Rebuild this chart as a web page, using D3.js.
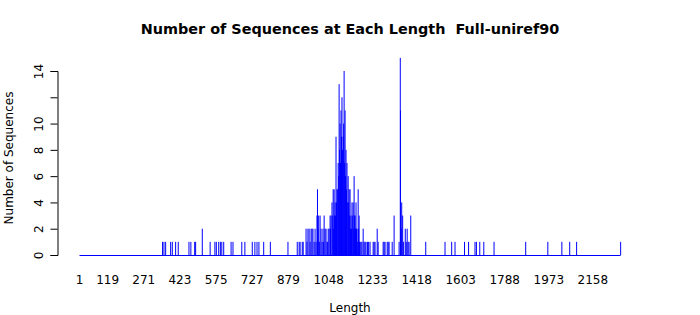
<!DOCTYPE html>
<html>
<head>
<meta charset="utf-8">
<script src="https://cdn.jsdelivr.net/npm/d3@7"></script>
<style>
  body { margin: 0; background: #fff; }
  text { font-family: "DejaVu Sans", sans-serif; fill: #000; }
</style>
</head>
<body>
<div id="chart"></div>
<script>
// sequence lengths that occur, and how many sequences have that length
const lengths = [
  350, 356, 363, 384, 391, 405, 416, 461, 469, 485, 489, 517, 550, 570, 576, 586, 593, 599, 607,
  638, 646, 683, 696, 727, 738, 747, 755, 775, 803, 877,
  916, 924, 928, 937, 941, 953, 957, 961, 966, 970, 974, 978, 982, 987, 991, 995,
  999, 1001, 1003, 1006, 1009, 1012, 1016, 1020, 1024, 1027, 1029, 1033, 1037, 1041, 1044, 1046,
  1050, 1054, 1056, 1058, 1062, 1065, 1067, 1069, 1071, 1073, 1075, 1077, 1079, 1081, 1083, 1086,
  1088, 1090, 1092, 1094, 1096, 1098, 1100, 1102, 1104, 1106, 1109, 1111, 1113, 1115, 1117, 1119,
  1121, 1123, 1125, 1128, 1130, 1132, 1134, 1136, 1138, 1140, 1142, 1144, 1146, 1149, 1151, 1153,
  1155, 1157, 1159, 1161, 1163, 1165, 1167, 1170, 1172, 1174, 1176, 1178, 1180, 1184, 1188, 1193,
  1197, 1201, 1205, 1211, 1216, 1222, 1235, 1239, 1243, 1252, 1256, 1277, 1281, 1285, 1294, 1298, 1302, 1315,
  1323, 1344, 1349, 1350, 1353, 1355, 1359, 1363, 1370, 1374, 1378, 1382, 1386, 1393,
  1456, 1537, 1565, 1579, 1619, 1636, 1663, 1669, 1683, 1700, 1743, 1876, 1969, 2028, 2061, 2090, 2275
];
const counts = [
  1, 1, 1, 1, 1, 1, 1, 1, 1, 1, 1, 2, 1, 1, 1, 1, 1, 1, 1,
  1, 1, 1, 1, 1, 1, 1, 1, 1, 1, 1,
  1, 1, 1, 1, 1, 2, 1, 2, 2, 1, 2, 2, 2, 1, 2, 1,
  3, 5, 2, 3, 1, 3, 2, 1, 2, 1, 3, 2, 2, 1, 1, 2,
  2, 3, 2, 3, 4, 3, 5, 2, 5, 3, 4, 3, 9, 4, 5, 5,
  7, 6, 13, 8, 10, 7, 11, 9, 12, 8, 9, 10, 14, 7, 11, 6,
  8, 5, 7, 4, 6, 4, 5, 3, 5, 2, 3, 2, 4, 3, 4, 2,
  6, 3, 3, 2, 4, 2, 2, 1, 5, 2, 3, 1, 1, 1, 1, 2,
  1, 1, 1, 1, 1, 1, 1, 1, 1, 2, 1, 1, 1, 1, 1, 1, 1, 1,
  3, 1, 15, 11, 2, 4, 3, 1, 2, 1, 2, 1, 1, 3,
  1, 1, 1, 1, 1, 1, 1, 1, 1, 1, 1, 1, 1, 1, 1, 1, 1
];

const xTickValues = [1, 119, 271, 423, 575, 727, 879, 1048, 1233, 1418, 1603, 1788, 1973, 2158];
const yTickValues = [0, 2, 4, 6, 8, 10, 12, 14];
const yTickLabels = ['0', '2', '4', '6', '8', '10', '', '14'];

const chartTitle = 'Number of Sequences at Each Length\u00a0\u00a0Full-uniref90';
const xLabel = 'Length';
const yLabel = 'Number of Sequences';

const width = 700;
const height = 315;

const svg = d3.select('#chart')
  .append('svg')
  .attr('width', width)
  .attr('height', height);

const x = d3.scaleLinear().domain([1, 2158]).range([79.5, 592.8]);
const y = d3.scaleLinear().domain([0, 14]).range([255, 71]);

const data = lengths.map((len, i) => ({ len, count: counts[i] }));

// baseline runs across every length from 1 to the longest one
svg.append('line')
  .attr('x1', x(1))
  .attr('x2', x(d3.max(lengths)))
  .attr('y1', y(0) + 0.5)
  .attr('y2', y(0) + 0.5)
  .attr('stroke', 'blue')
  .attr('stroke-width', 1);

svg.append('g')
  .selectAll('line')
  .data(data)
  .enter()
  .append('line')
  .attr('x1', (d) => x(d.len))
  .attr('x2', (d) => x(d.len))
  .attr('y1', y(0))
  .attr('y2', (d) => y(d.count))
  .attr('stroke', 'blue')
  .attr('stroke-width', 1);

// y axis, R style: rotated labels, outward ticks
const yAxis = svg.append('g')
  .attr('transform', 'translate(57.5,0)')
  .call(d3.axisLeft(y).tickValues(yTickValues).tickSize(7).tickFormat((d, i) => yTickLabels[i]));
yAxis.select('.domain').attr('stroke', '#000');
yAxis.selectAll('.tick line').attr('stroke', '#000');
yAxis.selectAll('.tick text')
  .attr('font-size', 12)
  .attr('x', null)
  .attr('dy', null)
  .attr('text-anchor', 'middle')
  .attr('transform', 'translate(-15,0) rotate(-90)')
  .attr('style', 'font-family: "DejaVu Sans", sans-serif');

// x axis: labels only, no line or ticks
svg.append('g')
  .selectAll('text')
  .data(xTickValues)
  .enter()
  .append('text')
  .attr('x', (d) => x(d))
  .attr('y', 284)
  .attr('text-anchor', 'middle')
  .attr('font-size', 12)
  .text((d) => d);

svg.append('text')
  .attr('x', 350)
  .attr('y', 34)
  .attr('text-anchor', 'middle')
  .attr('font-size', 14.4)
  .attr('font-weight', 'bold')
  .text(chartTitle);

svg.append('text')
  .attr('x', 350)
  .attr('y', 312)
  .attr('text-anchor', 'middle')
  .attr('font-size', 12)
  .text(xLabel);

svg.append('text')
  .attr('transform', 'translate(13,158) rotate(-90)')
  .attr('text-anchor', 'middle')
  .attr('font-size', 12)
  .text(yLabel);
</script>
</body>
</html>
